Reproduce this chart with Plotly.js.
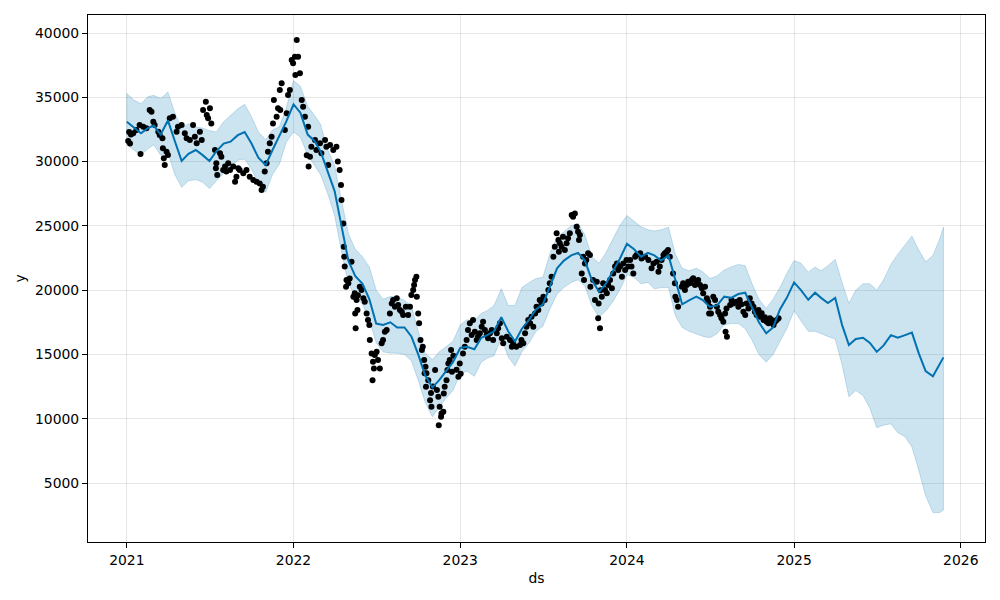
<!DOCTYPE html>
<html>
<head>
<meta charset="utf-8">
<script src="https://cdn.plot.ly/plotly-3.0.1.min.js"></script>
<style>html,body{margin:0;padding:0;background:#fff;}#chart{width:1000px;height:600px;}</style>
</head>
<body>
<div id="chart"></div>
<script>
// Forecast grid (semi-monthly)
const fcDates = [
"2021-01-01","2021-01-16","2021-02-01","2021-02-16","2021-03-01","2021-03-16","2021-04-01","2021-04-16","2021-05-01","2021-05-16","2021-06-01","2021-06-16","2021-07-01","2021-07-16","2021-08-01","2021-08-16","2021-09-01","2021-09-16","2021-10-01","2021-10-16","2021-11-01","2021-11-16","2021-12-01","2021-12-16",
"2022-01-01","2022-01-16","2022-02-01","2022-02-16","2022-03-01","2022-03-16","2022-04-01","2022-04-16","2022-05-01","2022-05-16","2022-06-01","2022-06-16","2022-07-01","2022-07-16","2022-08-01","2022-08-16","2022-09-01","2022-09-16","2022-10-01","2022-10-16","2022-11-01","2022-11-16","2022-12-01","2022-12-16",
"2023-01-01","2023-01-16","2023-02-01","2023-02-16","2023-03-01","2023-03-16","2023-04-01","2023-04-16","2023-05-01","2023-05-16","2023-06-01","2023-06-16","2023-07-01","2023-07-16","2023-08-01","2023-08-16","2023-09-01","2023-09-16","2023-10-01","2023-10-16","2023-11-01","2023-11-16","2023-12-01","2023-12-16",
"2024-01-01","2024-01-16","2024-02-01","2024-02-16","2024-03-01","2024-03-16","2024-04-01","2024-04-16","2024-05-01","2024-05-16","2024-06-01","2024-06-16","2024-07-01","2024-07-16","2024-08-01","2024-08-16","2024-09-01","2024-09-16","2024-10-01","2024-10-16","2024-11-01","2024-11-16","2024-12-01","2024-12-16",
"2025-01-01","2025-01-16","2025-02-01","2025-02-16","2025-03-01","2025-03-16","2025-04-01","2025-04-16","2025-05-01","2025-05-16","2025-06-01","2025-06-16","2025-07-01","2025-07-16","2025-08-01","2025-08-16","2025-09-01","2025-09-16","2025-10-01","2025-10-16","2025-11-01","2025-11-16","2025-11-24"
];
const yhat = [
33100,32700,32200,32600,32800,32100,33200,31600,30050,30600,30900,30500,30050,30800,31400,31550,32050,32300,31400,30300,29730,30900,32000,33100,
34450,33800,32100,31600,30800,29300,27700,25000,22300,21100,20500,19300,17400,17300,17500,17100,17100,16400,15000,13400,12440,13000,13700,14400,
15500,15600,15400,16300,16500,16800,17900,16800,16000,17000,17700,18500,18900,20300,21700,22300,22700,22900,22300,20800,19870,20500,21400,22400,
23600,23200,22600,22900,22700,22300,22700,20800,18900,19200,19490,19200,18700,18800,19490,19400,19700,19800,18700,17500,16640,17100,18500,19400,
20600,20000,19250,19800,19400,19000,19400,17300,15730,16200,16300,15900,15200,15700,16500,16300,16500,16700,15080,13700,13300,14200,14770
];
const yhatUpper = [
35300,34800,34500,35050,35150,34900,35400,33800,32600,32950,32700,32600,32400,32300,33100,33600,34100,34450,33490,32300,31700,32460,32700,34140,
36300,35850,34300,33600,32900,31000,29700,27000,24400,23200,22600,21800,20000,19300,19500,19500,19200,18800,16800,15100,14600,15200,15600,16000,
17300,17700,17600,18200,18400,18800,20100,18800,18800,20200,20600,20900,21000,22800,24100,24540,25000,25200,24300,22600,22100,22900,24000,25000,
25800,25400,24930,24700,24600,24700,24900,22800,21700,21500,21700,21400,20900,21100,21570,21800,22000,21900,20500,19300,18580,19300,20200,21300,
22300,22100,21400,21800,21500,21900,22400,20600,18970,20000,20500,20500,20000,20800,22000,22800,23500,24200,23120,22200,22700,24000,24900
];
const yhatLower = [
31300,30900,30500,31000,31300,30500,30700,29000,28000,28500,28600,28400,27900,28500,29100,29600,30100,30200,29400,28300,27600,29000,29800,31500,
32300,31900,30500,29700,29000,27600,25800,23000,20500,19500,18900,17700,15900,15200,15100,15100,15000,14500,13000,11300,10150,10900,11600,12200,
13500,13700,13300,14400,14700,14900,16300,14800,14100,15200,15900,16800,17200,18500,19700,20200,20600,20800,20300,18800,17900,18400,19100,20000,
21200,21000,20500,20600,20100,20200,20200,18000,17100,16800,16600,16400,16300,16600,17300,17400,17400,17000,16100,15000,14400,15000,16000,17000,
18400,17600,16800,16800,16600,16400,16200,14200,11700,12200,11800,10800,9300,9500,9600,8900,8600,7800,6000,4000,2700,2700,2900
];

// Observed points: day offset from 2021-01-01 and value
const obsStart = "2021-01-01";
const obsDays = [
3,5,7,9,14,21,28,30,36,43,50,54,58,61,69,72,78,79,81,83,87,90,94,101,109,112,120,127,131,138,145,149,153,160,164,167,173,175,178,182,185,193,195,196,198,204,207,211,215,218,222,226,233,237,240,244,247,255,262,269,277,284,291,295,298,302,306,309,313,317,320,322,328,331,335,336,339,346,350,353,357,361,364,368,369,372,375,379,383,386,390,394,397,398,401,404,412,415,423,426,434,437,441,445,452,459,462,466,469,470,474,475,476,477,480,481,485,488,492,496,499,500,501,503,505,506,510,514,518,521,525,528,531,532,536,538,539,541,543,547,550,554,558,561,565,569,576,580,583,587,591,594,598,602,605,611,616,620,623,627,629,631,634,635,638,640,643,646,648,651,652,654,655,656,660,664,666,667,670,675,679,682,683,685,688,689,693,694,696,700,702,704,707,710,712,715,722,726,729,731,736,740,744,747,751,755,758,762,766,769,773,777,780,784,788,791,795,799,802,810,813,817,821,824,832,839,843,846,853,861,864,868,872,875,879,883,886,890,894,897,901,904,908,912,915,923,926,930,934,937,941,945,946,948,952,955,959,963,966,970,974,977,981,985,988,990,992,996,999,1001,1003,1006,1010,1014,1015,1021,1025,1029,1032,1033,1036,1037,1040,1043,1047,1051,1054,1058,1062,1065,1069,1073,1076,1080,1084,1087,1091,1094,1098,1102,1105,1109,1113,1116,1124,1127,1135,1142,1149,1153,1160,1164,1167,1171,1175,1178,1182,1185,1189,1196,1200,1201,1204,1207,1215,1218,1222,1226,1229,1233,1237,1240,1244,1248,1251,1255,1259,1262,1266,1270,1273,1275,1277,1279,1284,1288,1292,1295,1299,1302,1306,1310,1311,1313,1314,1321,1324,1328,1335,1339,1342,1346,1350,1354,1357,1361,1364,1368,1372,1375,1379,1383,1386,1390,1394,1397,1401,1405,1408,1412,1416,1419,1423,1427
];
const obsValues = [
31600,32300,31400,32100,32200,32460,32840,30590,32710,32590,34010,33880,33100,32840,32320,32060,31810,31030,30250,29730,30770,30510,33360,33490,32320,32710,32840,32200,31810,31680,32840,31940,31420,32320,31680,34010,34660,33620,33360,34140,32970,30900,29480,29870,28950,30640,30380,29350,29610,29220,29870,29350,29610,28430,28820,29480,29350,29090,29350,28820,28560,28430,28300,27790,28040,29220,29870,30770,31420,31940,32970,34790,33490,34140,35570,34010,36090,32460,33750,35180,35570,37900,37640,38160,36730,39460,38160,36860,34790,34270,33490,30500,32710,29610,30380,31150,31680,30900,31420,30640,31680,31150,29730,31290,30900,31150,30000,29350,28170,27010,25190,23380,22600,21830,20270,20790,20530,20900,22210,19490,19750,18190,17030,19230,18450,19600,20270,20010,19360,19100,18190,17670,17290,16120,15080,13000,14430,13910,14950,15200,14560,13910,15860,16120,16770,16900,18190,18970,19230,18710,19360,18840,18450,18320,18060,18710,18060,18710,19620,20010,20400,20790,21040,19490,18190,17420,16120,15340,15600,14560,13530,14040,12480,13530,13000,11440,12000,10930,12500,13780,12230,11700,9500,10930,10150,10410,10540,11960,12480,13000,13780,14300,14560,15340,13650,14900,13800,13260,14300,13500,15080,15600,16120,16900,17420,16510,17670,16770,16120,16400,16640,17160,17540,16900,16510,16250,16640,16900,16120,16640,17030,17420,16250,15860,16380,16120,15600,15860,15600,15730,16120,15860,16640,17160,17670,17420,17930,17160,18190,18710,18450,19230,18970,19490,19230,20010,20530,21040,22600,23380,24420,23900,22990,23640,23380,24160,23120,23640,24030,24420,25840,25710,25970,24930,24540,23900,24290,21300,22600,20790,22080,22340,22860,22730,20270,20790,19230,20660,17810,18970,17030,20000,19490,20530,20010,19750,20400,20790,20140,21300,21830,22080,21570,21830,21040,22080,21570,22340,21830,22340,21830,21300,22600,22730,22860,22470,22600,22340,21700,22080,22210,21440,21830,22340,22730,22860,22990,23120,22600,21300,20530,19490,19230,18710,20270,20530,20010,20400,20660,20530,20790,20920,20400,20660,20790,20400,20140,19750,20270,19360,19100,18190,18710,18190,19490,19230,18710,18320,18060,17810,17540,18190,16770,18580,16380,18840,19230,18970,19100,18710,19230,18900,18320,18060,18970,18580,19360,18970,18710,18320,18060,18450,17930,18200,17670,17900,17540,17420,17810,17670,17290,17540,17670,17810
];

const yTicks = [5000,10000,15000,20000,25000,30000,35000,40000];
const xTickVals = ["2021-01-01","2022-01-01","2023-01-01","2024-01-01","2025-01-01","2026-01-01"];
const xTickText = ["2021","2022","2023","2024","2025","2026"];

const t0 = Date.parse(obsStart + "T00:00:00Z");
const obsDates = obsDays.map(d => new Date(t0 + d * 86400000).toISOString().slice(0, 10));

const bandColor = "rgba(0,114,178,0.2)";
const last = fcDates.length - 1;

const traces = [
  {x: fcDates, y: yhatUpper, type: "scatter", mode: "lines", line: {color: bandColor, width: 1}, hoverinfo: "skip", showlegend: false},
  {x: fcDates, y: yhatLower, type: "scatter", mode: "lines", fill: "tonexty", fillcolor: bandColor, line: {color: bandColor, width: 1}, hoverinfo: "skip", showlegend: false},
  {x: [fcDates[0], fcDates[0]], y: [yhatLower[0], yhatUpper[0]], type: "scatter", mode: "lines", line: {color: bandColor, width: 1}, hoverinfo: "skip", showlegend: false},
  {x: [fcDates[last], fcDates[last]], y: [yhatLower[last], yhatUpper[last]], type: "scatter", mode: "lines", line: {color: bandColor, width: 1}, hoverinfo: "skip", showlegend: false},
  {x: obsDates, y: obsValues, type: "scatter", mode: "markers", marker: {color: "#000000", size: 6, line: {width: 0}}, showlegend: false},
  {x: fcDates, y: yhat, type: "scatter", mode: "lines", line: {color: "#0072B2", width: 2}, showlegend: false}
];

const font = {family: "DejaVu Sans, sans-serif", size: 13.9, color: "#000"};
const layout = {
  width: 1000, height: 600,
  margin: {l: 88, r: 15, t: 15, b: 58, pad: 0},
  paper_bgcolor: "#fff", plot_bgcolor: "#fff",
  font: font,
  showlegend: false,
  hovermode: false,
  xaxis: {
    type: "date",
    range: ["2020-10-08", "2026-02-23"],
    tickvals: xTickVals, ticktext: xTickText,
    ticks: "outside", ticklen: 5, tickwidth: 1, tickcolor: "#000",
    showline: true, mirror: true, linecolor: "#000", linewidth: 1,
    showgrid: true, gridcolor: "rgba(128,128,128,0.2)", gridwidth: 1,
    zeroline: false, automargin: false,
    tickfont: font,
    title: {text: "ds", font: font, standoff: 6}
  },
  yaxis: {
    range: [411, 41400],
    tickvals: yTicks, tickformat: "d",
    ticks: "outside", ticklen: 5, tickwidth: 1, tickcolor: "#000",
    showline: true, mirror: true, linecolor: "#000", linewidth: 1,
    showgrid: true, gridcolor: "rgba(128,128,128,0.2)", gridwidth: 1,
    zeroline: false, automargin: false,
    tickfont: font,
    title: {text: "y", font: font, standoff: 6}
  }
};

Plotly.newPlot("chart", traces, layout, {displayModeBar: false, staticPlot: true});
</script>
</body>
</html>
